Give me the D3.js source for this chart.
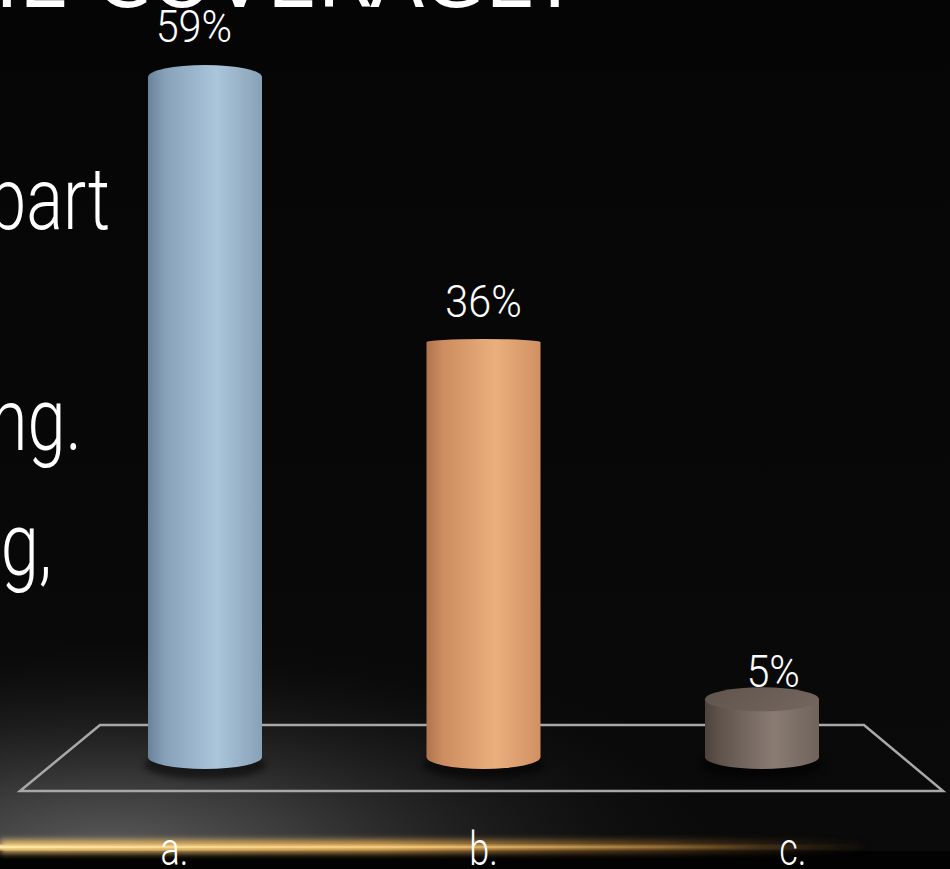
<!DOCTYPE html>
<html>
<head>
<meta charset="utf-8">
<script src="https://cdn.jsdelivr.net/npm/d3@7"></script>
<style>
html,body{margin:0;padding:0;background:#000;overflow:hidden;}
svg{display:block;}
</style>
</head>
<body>
<svg id="chart" width="950" height="869"></svg>
<script>
// ---- data ----
const categories = ["a.", "b.", "c."];
const values = [59, 36, 5];
const valueLabels = ["59%", "36%", "5%"];
const sideText = ["part", "ng.", "g,"];
const titleText = "WHAT IS THE COVERAGE?";

// ---- styles ----
const barColors = [
  {dark:"#6a8299", mid:"#86a0b8", hi:"#abc5db", right:"#88a1b7", top:"#9fb8ce"},
  {dark:"#b0744c", mid:"#cc8c5f", hi:"#ebaf7d", right:"#d09064", top:"#dca070"},
  {dark:"#4e423c", mid:"#60544d", hi:"#8a7c73", right:"#6f635b", top:"#6c5f57"}
];
const FONT = "Roboto,'Liberation Sans',sans-serif";
const FONT_WEIGHT = 300;
const W = 950, H = 869;

const svg = d3.select("#chart");
const defs = svg.append("defs");

// background
const bgGrad = defs.append("linearGradient").attr("id","bg").attr("x1",0).attr("y1",0).attr("x2",0).attr("y2",1);
bgGrad.append("stop").attr("offset",0).attr("stop-color","#050505");
bgGrad.append("stop").attr("offset",1).attr("stop-color","#0a0a0a");
svg.append("rect").attr("width",W).attr("height",H).attr("fill","url(#bg)");

// grey glow bottom-left
const glow = defs.append("radialGradient").attr("id","glow")
  .attr("gradientUnits","userSpaceOnUse").attr("cx",110).attr("cy",850).attr("r",650)
  .attr("gradientTransform","translate(110,850) scale(1,0.34) translate(-110,-850)");
glow.append("stop").attr("offset",0).attr("stop-color","#5a5a5a");
glow.append("stop").attr("offset",0.3).attr("stop-color","#3a3a3a");
glow.append("stop").attr("offset",0.7).attr("stop-color","#1a1a1a").attr("stop-opacity",0.6);
glow.append("stop").attr("offset",1).attr("stop-color","#0a0a0a").attr("stop-opacity",0);
svg.append("rect").attr("x",0).attr("y",620).attr("width",W).attr("height",231).attr("fill","url(#glow)");
// black below the streak
svg.append("rect").attr("x",0).attr("y",851).attr("width",W).attr("height",20).attr("fill","#020202");

// gold streak
const streak = defs.append("linearGradient").attr("id","streak").attr("x1",0).attr("x2",1).attr("y1",0).attr("y2",0);
streak.append("stop").attr("offset",0).attr("stop-color","#f6cf7a").attr("stop-opacity",1);
streak.append("stop").attr("offset",0.4).attr("stop-color","#e4ae58").attr("stop-opacity",0.95);
streak.append("stop").attr("offset",0.7).attr("stop-color","#a87430").attr("stop-opacity",0.5);
streak.append("stop").attr("offset",0.92).attr("stop-color","#604018").attr("stop-opacity",0);
const core = defs.append("linearGradient").attr("id","core").attr("x1",0).attr("x2",1).attr("y1",0).attr("y2",0);
core.append("stop").attr("offset",0).attr("stop-color","#fff0c0").attr("stop-opacity",0.7);
core.append("stop").attr("offset",0.45).attr("stop-color","#ffe6a8").attr("stop-opacity",0.45);
core.append("stop").attr("offset",0.8).attr("stop-color","#ffe6a8").attr("stop-opacity",0);
const blur = defs.append("filter").attr("id","blur").attr("x","-10%").attr("y","-200%").attr("width","120%").attr("height","500%");
blur.append("feGaussianBlur").attr("stdDeviation",3);
svg.append("rect").attr("x",0).attr("y",840).attr("width",950).attr("height",13).attr("fill","url(#streak)").attr("filter","url(#blur)").attr("opacity",0.9);
svg.append("rect").attr("x",0).attr("y",844.5).attr("width",950).attr("height",5).attr("fill","url(#streak)");
svg.append("rect").attr("x",0).attr("y",846).attr("width",950).attr("height",2).attr("fill","url(#core)");

// title (cut off at top)
svg.append("text").attr("x",578).attr("y",7).attr("text-anchor","end")
  .attr("font-family","'DejaVu Sans',sans-serif").attr("font-size",80).attr("fill","#fff")
  .text(titleText);

// narrow text helper
function narrowText(sel, fx, fy, k) {
  sel.attr("x",0).attr("y",0)
    .attr("transform",(d,i)=>`translate(${fx(d,i)},${fy(d,i)}) scale(${k},1)`);
}

// side text (cut off at left)
const sidePos = [{x:110,y:229},{x:82,y:450},{x:52,y:575}];
svg.selectAll("text.side").data(sideText).join("text").attr("class","side")
  .call(narrowText,(d,i)=>sidePos[i].x,(d,i)=>sidePos[i].y,0.78)
  .attr("text-anchor","end").attr("font-family",FONT).attr("font-weight",FONT_WEIGHT)
  .attr("font-size",88).attr("fill","#fff")
  .text(d=>d);

// ---- scales ----
const x = d3.scalePoint().domain(categories).range([205, 762]);
const y = d3.scaleLinear().domain([0, 59]).range([757, 77]);
const rx = 57;
const ryBase = 12;
const eyeY = 345;
const topRy = yy => Math.min(12, 3 + 0.04*Math.abs(yy - eyeY));

// floor
const floor = [[100,725],[864,725],[943,791],[20,791]];
svg.append("path").attr("d", d3.line()(floor) + "Z")
  .attr("fill","none").attr("stroke","#a8a8a8").attr("stroke-width",2.5);

// gradients per bar
barColors.forEach((c,i)=>{
  const g = defs.append("linearGradient").attr("id","bar"+i).attr("x1",0).attr("x2",1).attr("y1",0).attr("y2",0);
  g.append("stop").attr("offset",0).attr("stop-color",c.dark);
  g.append("stop").attr("offset",0.14).attr("stop-color",c.mid);
  g.append("stop").attr("offset",0.6).attr("stop-color",c.hi);
  g.append("stop").attr("offset",1).attr("stop-color",c.right);
  const t = defs.append("linearGradient").attr("id","top"+i).attr("x1",0).attr("x2",1).attr("y1",0).attr("y2",0.3);
  t.append("stop").attr("offset",0).attr("stop-color",d3.color(c.top).darker(0.35));
  t.append("stop").attr("offset",1).attr("stop-color",d3.color(c.top).brighter(0.15));
});

const data = categories.map((c,i)=>({cat:c, v:values[i], lab:valueLabels[i], i}));
const y0 = y(0);

// shadows
svg.selectAll("ellipse.shadow").data(data).join("ellipse").attr("class","shadow")
  .attr("cx",d=>x(d.cat)).attr("cy",y0+8).attr("rx",rx+4).attr("ry",ryBase+2)
  .attr("fill","#000").attr("opacity",0.5).attr("filter","url(#blur)");

const bars = svg.selectAll("g.bar").data(data).join("g").attr("class","bar");
bars.append("path")
  .attr("d", d=>{
    const cx = x(d.cat), yt = y(d.v);
    return `M${cx-rx},${yt} L${cx-rx},${y0} A${rx},${ryBase} 0 0 0 ${cx+rx},${y0} L${cx+rx},${yt} Z`;
  })
  .attr("fill", d=>`url(#bar${d.i})`);
bars.append("ellipse")
  .attr("cx", d=>x(d.cat)).attr("cy", d=>y(d.v))
  .attr("rx", rx).attr("ry", d=>topRy(y(d.v)))
  .attr("fill", d=> y(d.v) > eyeY + 100 ? `url(#top${d.i})` : `url(#bar${d.i})`);

// value labels
const labelX = cx => cx + (cx - 483)*0.04;
bars.append("text")
  .call(narrowText, d=>labelX(x(d.cat)), d=>1.037*y(d.v) - 37.8, 0.94)
  .attr("text-anchor","middle").attr("font-family",FONT).attr("font-weight",FONT_WEIGHT)
  .attr("font-size",44).attr("fill","#fff")
  .text(d=>d.lab);

// category labels
svg.selectAll("text.cat").data(categories).join("text").attr("class","cat")
  .call(narrowText, d=>483 + (x(d)-483)*1.11, ()=>865, 0.78)
  .attr("text-anchor","middle").attr("font-family",FONT).attr("font-weight",FONT_WEIGHT)
  .attr("font-size",46).attr("fill","#fff")
  .text(d=>d);
</script>
</body>
</html>
